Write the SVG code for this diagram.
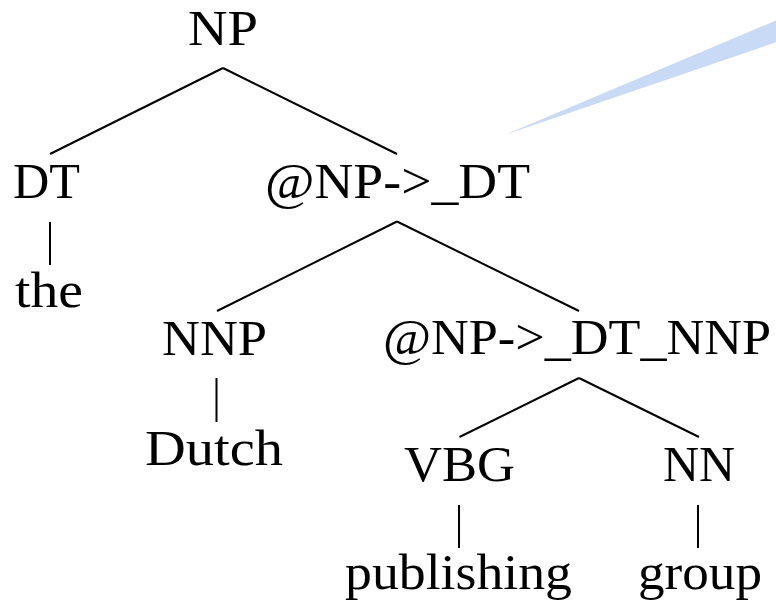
<svg xmlns="http://www.w3.org/2000/svg" width="776" height="600" viewBox="0 0 776 600">
  <style>
    .lbl { font-family: "Liberation Serif", "Times New Roman", serif; font-size: 50px; fill: #000; }
    .edge { stroke: #000; stroke-width: 2; fill: none; stroke-linecap: butt; }
  </style>
  <rect width="776" height="600" fill="#fff"/>
  <!-- pale blue pointer wedge -->
  <polygon points="507,134 776,20.5 776,42.3" fill="#c9daf6"/>

  <g id="connectors">
    <line class="edge" x1="223" y1="68" x2="50" y2="154"/>
    <line class="edge" x1="223" y1="68" x2="397" y2="154"/>
    <line class="edge" x1="50" y1="222" x2="50" y2="265"/>
    <line class="edge" x1="397" y1="221.5" x2="217" y2="311"/>
    <line class="edge" x1="397" y1="221.5" x2="579" y2="311"/>
    <line class="edge" x1="216.5" y1="378" x2="216.5" y2="422"/>
    <line class="edge" x1="579" y1="378" x2="459.5" y2="437"/>
    <line class="edge" x1="579" y1="378" x2="699" y2="437"/>
    <line class="edge" x1="459" y1="505" x2="459" y2="548"/>
    <line class="edge" x1="698" y1="505" x2="698" y2="548"/>
  </g>

  <g id="n-np"><text class="lbl" x="188" y="45" textLength="70" lengthAdjust="spacingAndGlyphs">NP</text></g>
  <g id="n-dt"><text class="lbl" x="13" y="198" textLength="67" lengthAdjust="spacingAndGlyphs">DT</text></g>
  <g id="n-the"><text class="lbl" x="15" y="307" textLength="68" lengthAdjust="spacingAndGlyphs">the</text></g>
  <g id="n-np-dt"><text class="lbl" x="265" y="198" textLength="265" lengthAdjust="spacingAndGlyphs">@NP-&gt;_DT</text></g>
  <g id="n-nnp"><text class="lbl" x="162" y="355" textLength="105" lengthAdjust="spacingAndGlyphs">NNP</text></g>
  <g id="n-dutch"><text class="lbl" x="145" y="465" textLength="138" lengthAdjust="spacingAndGlyphs">Dutch</text></g>
  <g id="n-np-dt-nnp"><text class="lbl" x="383" y="354" textLength="388" lengthAdjust="spacingAndGlyphs">@NP-&gt;_DT_NNP</text></g>
  <g id="n-vbg"><text class="lbl" x="404" y="481" textLength="111" lengthAdjust="spacingAndGlyphs">VBG</text></g>
  <g id="n-nn"><text class="lbl" x="663" y="481" textLength="72" lengthAdjust="spacingAndGlyphs">NN</text></g>
  <g id="n-publishing"><text class="lbl" x="345" y="589" textLength="227" lengthAdjust="spacingAndGlyphs">publishing</text></g>
  <g id="n-group"><text class="lbl" x="638" y="589" textLength="124" lengthAdjust="spacingAndGlyphs">group</text></g>
</svg>
